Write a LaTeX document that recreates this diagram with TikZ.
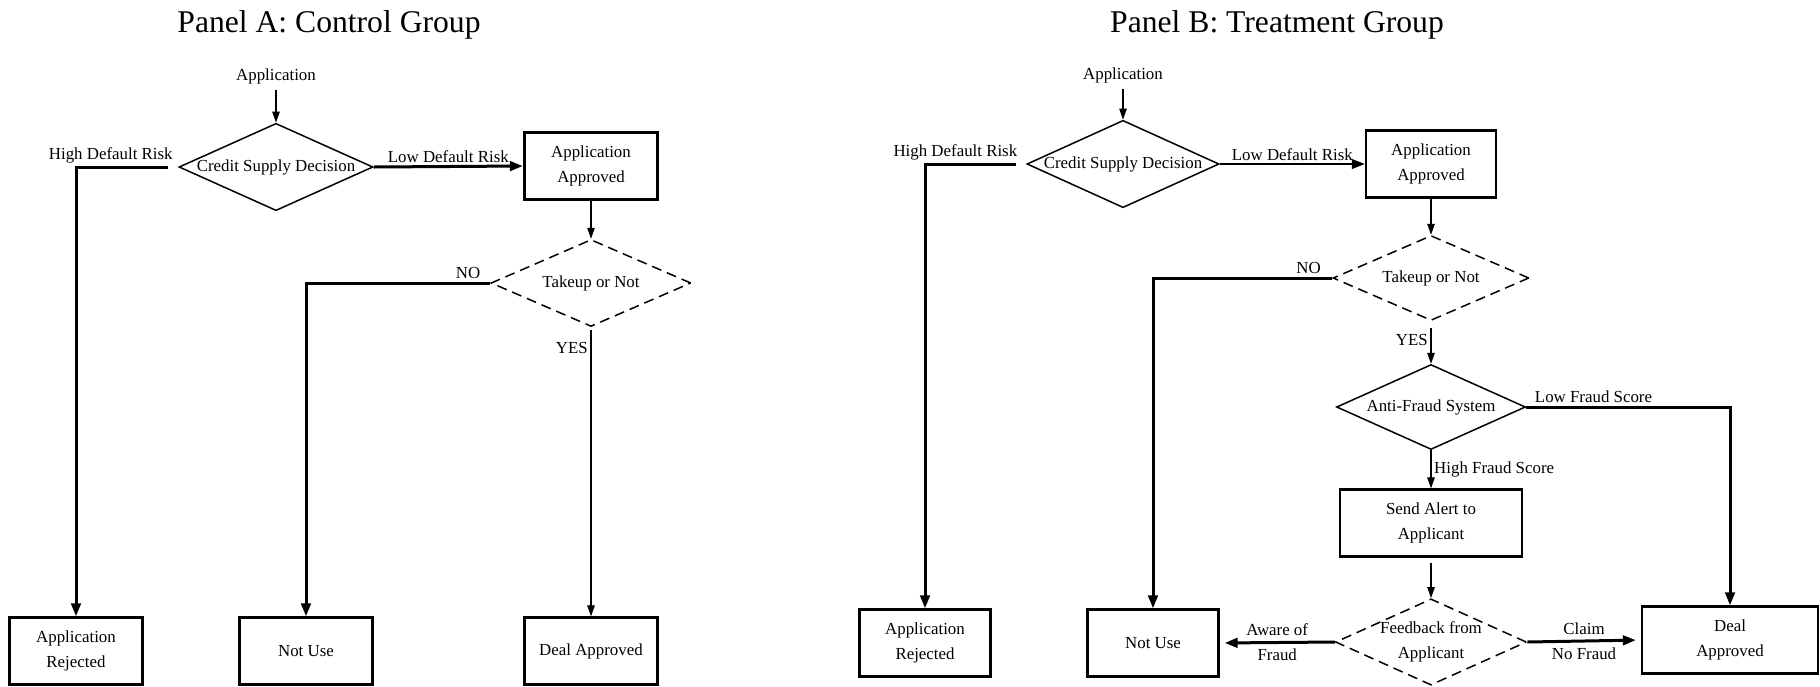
\documentclass[tikz,border=0pt]{standalone}
\usepackage{fontspec}
\setmainfont{Liberation Serif}
\usetikzlibrary{shapes.geometric,arrows.meta,positioning}
\newlength{\pxu}
\setlength{\pxu}{0.2mm}

\tikzset{
  every node/.style={font=\fontsize{9.6}{14}\selectfont},
  box/.style={draw, rectangle, line width=0.45mm, align=center, inner sep=0pt,
    minimum width=133\pxu, minimum height=67\pxu},
  decision/.style={draw, diamond, aspect=2.2, line width=0.3mm, align=center,
    inner sep=0pt, minimum width=194\pxu, minimum height=87\pxu},
  maybe/.style={decision, dash pattern=on 2mm off 1.2mm},
  flow/.style={line width=0.6mm, -{Triangle[length=2.6mm,width=1.9mm]}},
  thinflow/.style={line width=0.22mm, -{Triangle[length=2.2mm,width=1.5mm]}},
  tag/.style={inner sep=1.5pt},
  pairtag/.style={inner sep=3pt},
  paneltitle/.style={font=\fontsize{18}{20}\selectfont},
}

\begin{document}
\begin{tikzpicture}[x=0.2mm,y=-0.2mm]
\useasboundingbox (0,0) rectangle (1820,686);

% Panel A
\node[paneltitle] (titleA) at (329,25) {Panel A: Control Group};
\node (appA) at (276,76) {Application};
\node[decision] (credA) at (276,167) {Credit Supply Decision};
\node[box, line width=0.65mm] (apprA) at (591,166) {Application\\Approved};
\node[maybe, minimum width=200\pxu] (takeA) at (591,283) {Takeup or Not};
\node[box] (rejA) at (76,651) {Application\\Rejected};
\node[box] (notA) at (306,651) {Not Use};
\node[box] (dealA) at (591,651) {Deal Approved};

\draw[thinflow] (appA) -- (credA);
\draw[flow, shorten <=2mm] (credA.west) -| node[tag, pos=.33, above] {High Default Risk} (rejA.north);
\draw[flow] (credA.east) -- node[tag, above] {Low Default Risk} (apprA.west);
\draw[thinflow] (apprA) -- (takeA);
\draw[flow] (takeA.west) -| node[tag, pos=.06, above] {NO} (notA.north);
\draw[thinflow, shorten <=0.6mm] (takeA.south) -- node[tag, pos=.07, left] {YES} (dealA.north);

% Panel B
\node[paneltitle] (titleB) at (1277,25) {Panel B: Treatment Group};
\node (appB) at (1123,75) {Application};
\node[decision, minimum width=189\pxu, minimum height=85\pxu] (credB) at (1123,164) {Credit Supply Decision};
\node[box, minimum width=130\pxu] (apprB) at (1431,164) {Application\\Approved};
\node[maybe, minimum width=196\pxu, minimum height=85\pxu] (takeB) at (1431,278) {Takeup or Not};
\node[decision, minimum width=189\pxu, minimum height=85\pxu] (fraudB) at (1431,407) {Anti-Fraud System};
\node[box, minimum width=182\pxu] (alertB) at (1431,523) {Send Alert to\\Applicant};
\node[maybe, minimum width=191\pxu, minimum height=86\pxu] (feedB) at (1431,642) {Feedback from\\Applicant};
\node[box, minimum width=131\pxu] (rejB) at (925,643) {Application\\Rejected};
\node[box, minimum width=131\pxu] (notB) at (1153,643) {Not Use};
\node[box, minimum width=176\pxu] (dealB) at (1730,640) {Deal\\Approved};

\draw[thinflow] (appB) -- (credB);
\draw[flow, shorten <=2mm] (credB.west) -| node[tag, pos=.35, above] {High Default Risk} (rejB.north);
\draw[flow, line width=0.45mm] (credB.east) -- node[tag, above] {Low Default Risk} (apprB.west);
\draw[thinflow] (apprB) -- (takeB);
\draw[flow] (takeB.west) -| node[tag, pos=.066, above] {NO} (notB.north);
\draw[thinflow, shorten <=1.4mm] (takeB.south) -- node[tag, pos=.45, left] {YES} (fraudB.north);
\draw[flow] (fraudB.east) -| node[tag, pos=.165, above] {Low Fraud Score} (dealB.north);
\draw[thinflow] (fraudB.south) -- node[tag, midway, right] {High Fraud Score} (alertB.north);
\draw[thinflow, shorten <=1mm] (alertB) -- (feedB);
\draw[flow, shorten >=1mm] (feedB.west) -- node[pairtag, above] {Aware of} node[pairtag, below] {Fraud} (notB.east);
\draw[flow, shorten >=1mm] (feedB.east) -- node[pairtag, above] {Claim} node[pairtag, below] {No Fraud} (dealB.west);
\end{tikzpicture}
\end{document}
